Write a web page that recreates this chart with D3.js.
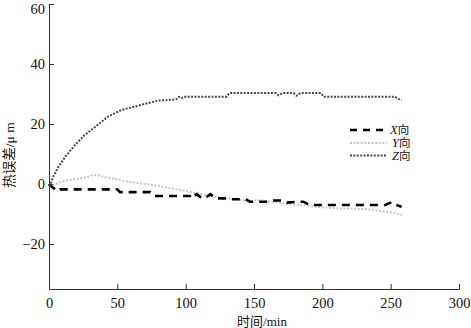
<!DOCTYPE html>
<html><head><meta charset="utf-8">
<script src="https://cdn.jsdelivr.net/npm/d3@7"></script>
<style>body{margin:0;background:#fff}svg{display:block}</style>
</head><body><svg id="c" width="471" height="328"></svg>
<script>
const xTicks = [0, 50, 100, 150, 200, 250, 300];
const yTicks = [-20, 0, 20, 40, 60];
const seriesNames = ["X", "Y", "Z"];
const xTime = [0,1,6,8,50,52,74,77,103,104,108,112,114,118,122,130,132,144,147,160,164,170,174,180,186,191,246,251,254,258];
const xVal  = [0,-0.5,-2.4,-1.8,-1.8,-2.7,-2.7,-4.0,-4.0,-4.8,-3.4,-4.8,-4.8,-3.4,-4.8,-4.8,-5.1,-5.1,-5.9,-5.9,-5.5,-5.5,-6.2,-6.0,-5.9,-7.0,-7.0,-6.0,-7.0,-7.6];
const yTime = [0,3,8,12,21,28,32,36,40,48,58,68,76,88,96,103,114,127,136,145,153,160,171,180,196,210,222,232,240,248,254,258];
const yVal  = [0,-0.4,0.6,1.1,1.7,2.3,3.0,2.9,2.4,1.7,0.8,0.1,-0.3,-1.3,-2.0,-2.6,-3.6,-4.7,-5.0,-5.6,-5.4,-5.8,-6.4,-6.8,-7.6,-8.1,-8.2,-8.4,-8.8,-9.3,-9.8,-10.4];
const zTime = [0,0.5,3,7,12,19,26,34,43,53,63,70,80,87,93,95,97,99,130,132,166,168,171,179,181,184,199,201,253,256,258];
const zVal  = [0,-1,2.4,5.8,9.1,13,16.3,19.1,22.4,24.7,25.8,26.7,27.8,28.0,28.2,29.0,28.6,29.1,29.1,30.3,30.3,29.6,30.3,30.3,29.4,30.3,30.3,29.1,29.1,28.3,28.0];

const svg = d3.select("#c");
const x = d3.scaleLinear().domain([0, 300]).range([49, 459]);
const y = d3.scaleLinear().domain([-35, 60]).range([289, 4]);
const serif = "'Liberation Serif','Times New Roman',serif";
const cjk = "'Liberation Serif','Noto Sans CJK SC',serif";

const xa = svg.append("g").attr("transform","translate(0,289)")
  .call(d3.axisBottom(x).tickValues(xTicks).tickSizeInner(-5).tickSizeOuter(0).tickPadding(9));
const ya = svg.append("g").attr("transform","translate(49,0)")
  .call(d3.axisLeft(y).tickValues(yTicks).tickSizeInner(-5).tickSizeOuter(0).tickPadding(5)
    .tickFormat(d => d < 0 ? "\u2212" + Math.abs(d) : d));
[xa, ya].forEach(a => {
  a.select(".domain").attr("stroke","#333").attr("stroke-width",1);
  a.selectAll(".tick line").attr("stroke","#333");
  a.selectAll("text").attr("font-family", serif).attr("font-size", 14.5).attr("fill","#111");
});
ya.selectAll(".tick text").attr("x", -4).filter(d => d === 60).attr("dy", "0.62em");

svg.append("text").attr("x", 262).attr("y", 326).attr("text-anchor","middle")
  .attr("font-family", cjk).attr("font-size", 13).attr("fill","#111").text("时间/min");
svg.append("text").attr("transform","translate(14,155) rotate(-90)").attr("text-anchor","middle")
  .attr("font-family", cjk).attr("font-size", 13.5).attr("fill","#111").text("热误差/μ m");

const styles = {
  X: {stroke:"#000", w:2.6, dash:"8,6"},
  Y: {stroke:"#c6c6c6", w:2, dash:"2,1.6"},
  Z: {stroke:"#484848", w:2, dash:"2,1.4"}
};
const data = {
  X: xTime.map((t,i)=>[t,xVal[i]]),
  Y: yTime.map((t,i)=>[t,yVal[i]]),
  Z: zTime.map((t,i)=>[t,zVal[i]])
};
const line = d3.line().x(d=>x(d[0])).y(d=>y(d[1]));
["Y","X","Z"].forEach(k => {
  svg.append("path").datum(data[k]).attr("d", line).attr("fill","none")
    .attr("stroke", styles[k].stroke).attr("stroke-width", styles[k].w)
    .attr("stroke-dasharray", styles[k].dash);
});

const legY = [130, 143, 155.5];
seriesNames.forEach((k,i) => {
  svg.append("line").attr("x1",350).attr("x2",387).attr("y1",legY[i]).attr("y2",legY[i])
    .attr("stroke", styles[k].stroke).attr("stroke-width", styles[k].w)
    .attr("stroke-dasharray", k==="X" ? "7,6" : styles[k].dash);
  const t = svg.append("text").attr("x", k==="X" ? 390 : 392).attr("y", legY[i]+4)
    .attr("font-family", cjk).attr("font-size", 11.5).attr("fill","#111");
  t.append("tspan").attr("font-style","italic").attr("font-family", serif).attr("font-size", 12.5).text(k);
  t.append("tspan").text("向");
});
</script></body></html>
